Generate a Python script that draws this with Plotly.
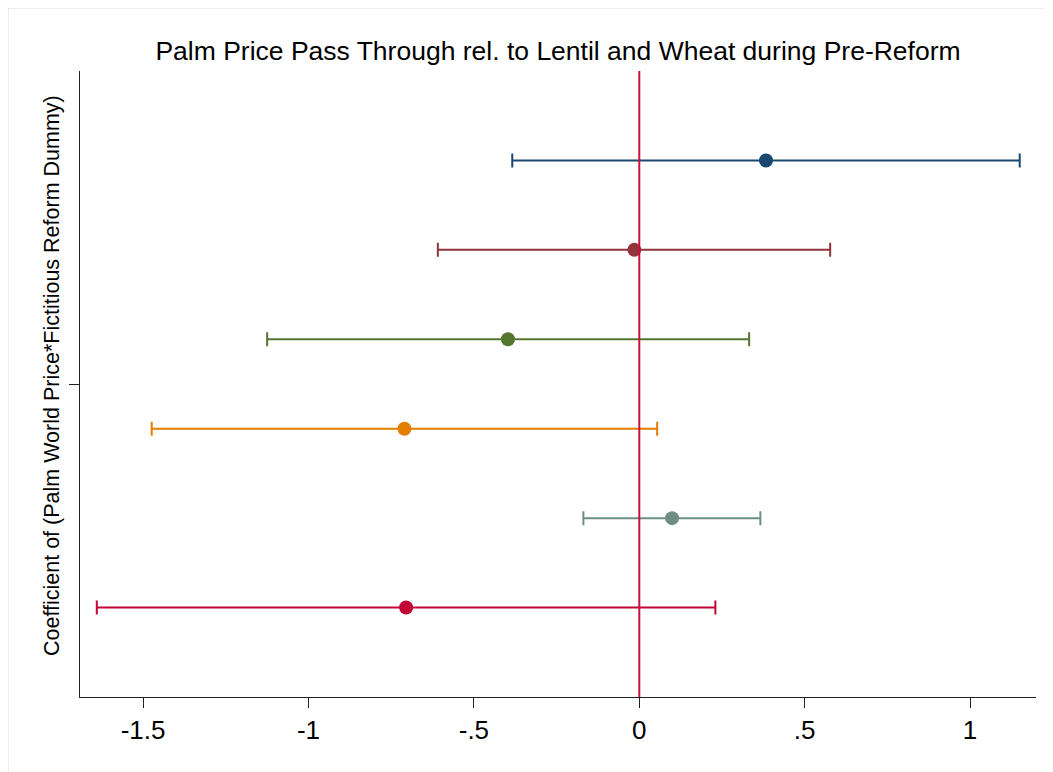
import plotly.graph_objects as go

# Data (coefficient estimates and 95% CI bounds), top to bottom
positions = [1, 2, 3, 4, 5, 6]
coef = [0.383, -0.015, -0.397, -0.710, 0.099, -0.705]
ci_lo = [-0.384, -0.609, -1.125, -1.474, -0.169, -1.640]
ci_hi = [1.150, 0.577, 0.332, 0.054, 0.366, 0.230]
colors = ["#1a476f", "#90353b", "#55752f", "#e37e00", "#6e8e84", "#c10534"]

x_tickvals = [-1.5, -1, -0.5, 0, 0.5, 1]
x_ticktext = ["-1.5", "-1", "-.5", "0", ".5", "1"]
y_tickvals = [3.5]
y_ticktext = [""]

title_text = "Palm Price Pass Through rel. to Lentil and Wheat during Pre-Reform"
ytitle_text = "Coefficient of (Palm World Price*Fictitious Reform Dummy)"

FONT = "Liberation Sans, Arial, Helvetica, sans-serif"

OFF = 8  # page body margin offset
W, H = 1053 - OFF, 772 - OFF
ML, MR, MT, MB = 80 - OFF, 17, 71 - OFF, 75
PW = W - ML - MR
PH = H - MT - MB

def px_x(p):  # page pixel -> paper x
    return (p - OFF - ML) / PW

def px_y(p):  # page pixel -> paper y
    return (H - MB - (p - OFF)) / PH

fig = go.Figure()
for i in range(len(coef)):
    fig.add_trace(go.Scatter(
        x=[coef[i]], y=[positions[i]],
        mode="markers",
        marker=dict(color=colors[i], size=14, line=dict(width=0)),
        error_x=dict(type="data", symmetric=False,
                     array=[ci_hi[i] - coef[i]],
                     arrayminus=[coef[i] - ci_lo[i]],
                     color=colors[i], thickness=2, width=7),
        showlegend=False,
        hoverinfo="x",
    ))

fig.add_vline(x=0, line=dict(color="#c8103c", width=2), layer="above")

# faint outer frame (graph region outline)
fig.add_shape(type="line", xref="paper", yref="paper",
              x0=px_x(8), x1=px_x(1053), y0=px_y(8), y1=px_y(8),
              line=dict(color="#e3eaea", width=1.5))
fig.add_shape(type="line", xref="paper", yref="paper",
              x0=px_x(8), x1=px_x(8), y0=px_y(8), y1=px_y(772),
              line=dict(color="#e3eaea", width=1.5))

fig.add_annotation(text=ytitle_text, xref="paper", yref="paper",
                   x=px_x(52), y=px_y(376), textangle=-90,
                   xanchor="center", yanchor="middle", showarrow=False,
                   font=dict(family=FONT, size=21.5, color="#000"))

fig.update_layout(
    width=W, height=H,
    margin=dict(l=ML, r=MR, t=MT, b=MB, autoexpand=False),
    paper_bgcolor="white", plot_bgcolor="white",
    title=dict(text=title_text, x=0.5, xref="paper", xanchor="center",
               y=1 - (51 - OFF) / H, yref="container", yanchor="middle",
               font=dict(family=FONT, size=26.5, color="#000")),
    font=dict(family=FONT, color="#000"),
    xaxis=dict(range=[(80 - 639.3) / 330.8, (1036 - 639.3) / 330.8],
               tickvals=x_tickvals, ticktext=x_ticktext,
               ticks="outside", ticklen=10, tickwidth=1.3, tickcolor="#222",
               showline=True, linecolor="#222", linewidth=1.3,
               showgrid=False, zeroline=False,
               tickfont=dict(family=FONT, size=26, color="#000")),
    yaxis=dict(range=[7, 0], tickvals=y_tickvals, ticktext=y_ticktext,
               ticks="outside", ticklen=10, tickwidth=1.3, tickcolor="#222",
               showline=True, linecolor="#222", linewidth=1.3,
               showgrid=False, zeroline=False),
)

fig.write_html("out.html")
